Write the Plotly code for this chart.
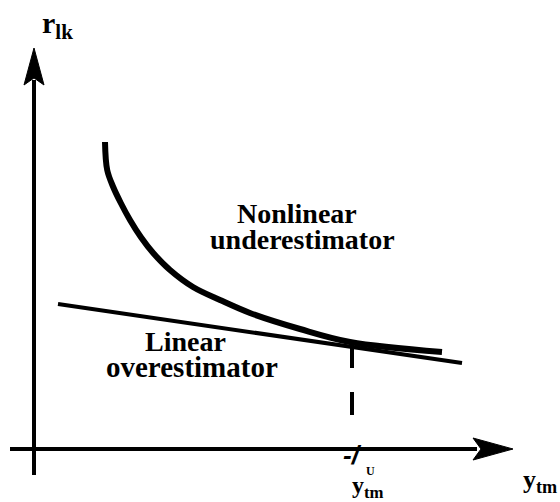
import plotly.graph_objects as go

# ---- data (conceptual units) ----
curve_x = [1.775, 1.83, 1.98, 2.17, 2.4, 2.67, 2.98, 3.4, 3.975, 4.65, 5.4, 6.65, 7.9, 10.2]
curve_y = [7.675, 6.975, 6.55, 6.15, 5.725, 5.3, 4.9, 4.475, 4.05, 3.725, 3.4, 3.0, 2.675, 2.425]

line_x = [0.6, 10.7]
line_y = [3.625, 2.15]

y_upper = 7.95          # y_tm^U
tangent_y = 2.6
dash_bottom = 0.8

x_axis_ext = [-0.6, 11.975]
y_axis_ext = [-0.65, 10.025]

labels_curve = ["Nonlinear", "underestimator"]
labels_line = ["Linear", "overestimator"]

BLACK = "#000000"
FONT = "Liberation Serif, Times New Roman, serif"

fig = go.Figure()

# axes lines
fig.add_trace(go.Scatter(x=[x_axis_ext[0], x_axis_ext[1] - 0.9], y=[0, 0], mode="lines",
                         line=dict(color=BLACK, width=4), hoverinfo="skip"))
fig.add_trace(go.Scatter(x=[0, 0], y=[y_axis_ext[0], y_axis_ext[1] - 0.8], mode="lines",
                         line=dict(color=BLACK, width=4), hoverinfo="skip"))

# arrowheads (filled notched triangles at axis ends)
tx = x_axis_ext[1]
fig.add_trace(go.Scatter(x=[tx, tx - 1.0, tx - 0.8, tx - 1.0, tx], y=[0, 0.275, 0, -0.275, 0],
                         mode="lines", fill="toself", fillcolor=BLACK,
                         line=dict(color=BLACK, width=1), hoverinfo="skip"))
ty = y_axis_ext[1]
fig.add_trace(go.Scatter(x=[0, 0.25, 0, -0.25, 0], y=[ty, ty - 0.925, ty - 0.75, ty - 0.925, ty],
                         mode="lines", fill="toself", fillcolor=BLACK,
                         line=dict(color=BLACK, width=1), hoverinfo="skip"))

# linear overestimator
fig.add_trace(go.Scatter(x=line_x, y=line_y, mode="lines",
                         line=dict(color=BLACK, width=4), hoverinfo="skip"))
# nonlinear underestimator
fig.add_trace(go.Scatter(x=curve_x, y=curve_y, mode="lines",
                         line=dict(color=BLACK, width=6, shape="spline", smoothing=1.0),
                         hoverinfo="skip"))
# dashed vertical at y_tm^U
fig.add_trace(go.Scatter(x=[y_upper, y_upper], y=[tangent_y, dash_bottom], mode="lines",
                         line=dict(color=BLACK, width=4, dash="23px,24px"), hoverinfo="skip"))

ann = []
def txt(x, y, t, size, xanchor="center", yanchor="middle", family=FONT, style="normal"):
    ann.append(dict(x=x, y=y, xref="x", yref="y", text=t, showarrow=False,
                    xanchor=xanchor, yanchor=yanchor,
                    font=dict(family=family, size=size, color=BLACK, weight="bold", style=style)))

txt(6.575, 5.9, labels_curve[0], 28)
txt(6.7, 5.25, labels_curve[1], 28)
txt(3.775, 2.7, labels_line[0], 28)
txt(3.95, 2.05, labels_line[1], 29)

txt(0.15, 10.6, "r<sub>lk</sub>", 30, xanchor="left")
txt(12.175, -0.8, "y<sub>tm</sub>", 26, xanchor="left")
txt(7.9, -0.95, "y<sub>tm</sub>", 24, xanchor="left")
txt(8.42, -0.55, "U", 12)
txt(7.95, -0.15, "-/", 26, family="Liberation Sans, Arial, sans-serif", style="italic")

fig.update_layout(
    width=560, height=502,
    margin=dict(l=0, r=0, t=0, b=0),
    paper_bgcolor="white", plot_bgcolor="white",
    showlegend=False,
    xaxis=dict(range=[-0.85, 13.15], visible=False, fixedrange=True),
    yaxis=dict(range=[-1.325, 11.225], visible=False, fixedrange=True),
    annotations=ann,
)

fig.write_html("out.html", config={"displayModeBar": False},
               post_script="document.body.style.margin='0';document.body.style.padding='0';")
